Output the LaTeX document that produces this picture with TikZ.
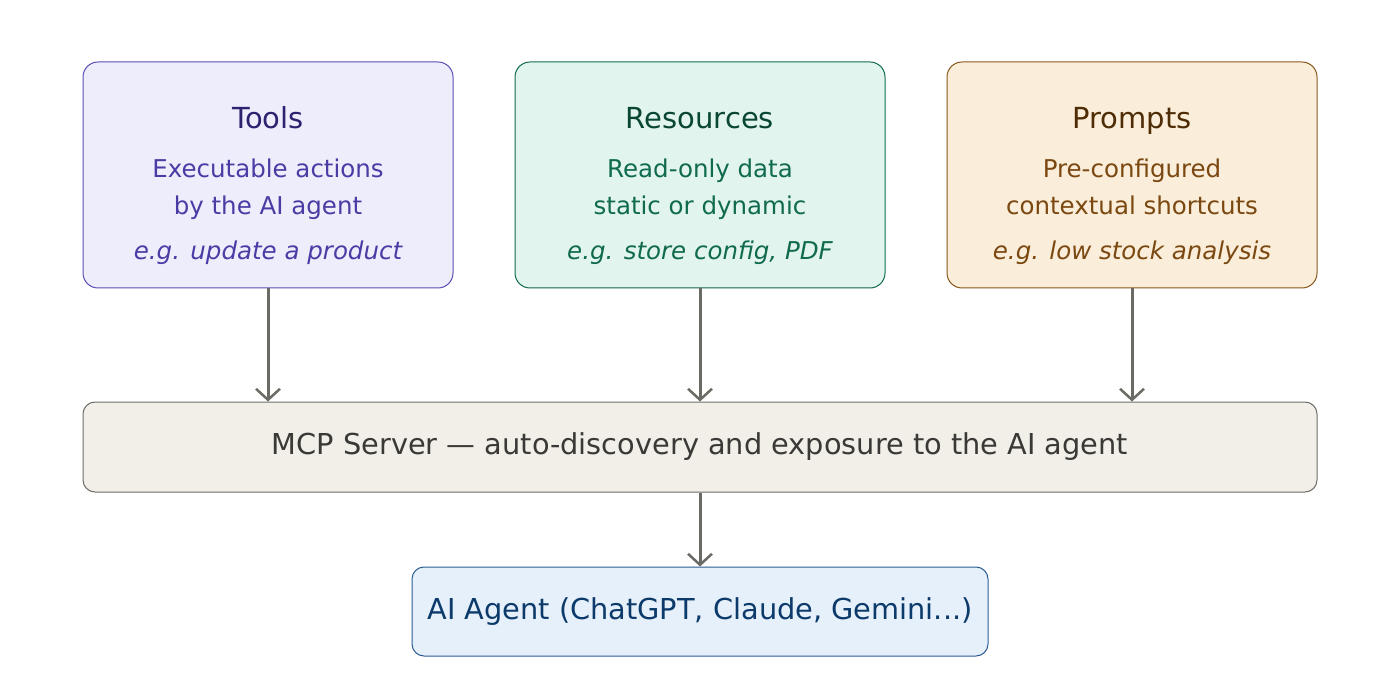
\documentclass[tikz,border=0pt]{standalone}
\usepackage{fontspec}
\setmainfont{DejaVu Sans}
\usepackage{xcolor}
\usetikzlibrary{arrows.meta, positioning, calc}

\definecolor{toolfill}{HTML}{EEEDFC}
\definecolor{tooldraw}{HTML}{5A4FB4}
\definecolor{tooltitle}{HTML}{2C2270}
\definecolor{tooltext}{HTML}{4A3CA4}
\definecolor{resfill}{HTML}{E1F4EE}
\definecolor{resdraw}{HTML}{116B50}
\definecolor{restitle}{HTML}{0A4634}
\definecolor{restext}{HTML}{0F6A4E}
\definecolor{promptfill}{HTML}{FAEDD9}
\definecolor{promptdraw}{HTML}{86581C}
\definecolor{prompttitle}{HTML}{4E2C06}
\definecolor{prompttext}{HTML}{7A4810}
\definecolor{mcpfill}{HTML}{F1EFE8}
\definecolor{mcpdraw}{HTML}{6E6D68}
\definecolor{mcptext}{HTML}{3A3936}
\definecolor{agentfill}{HTML}{E6F0FA}
\definecolor{agentdraw}{HTML}{2C5C92}
\definecolor{agenttext}{HTML}{0C3A6A}
\definecolor{arrowgray}{HTML}{6B6B66}

\begin{document}
\begin{tikzpicture}[x=1pt, y=1pt,
    card/.style={draw, rounded corners=15pt, line width=1pt, minimum width=370pt, minimum height=226pt, inner sep=0pt},
    bar/.style={draw=mcpdraw, fill=mcpfill, rounded corners=12pt, line width=1pt, inner sep=0pt},
    title/.style={font=\fontsize{29}{32}\selectfont, anchor=base},
    body/.style={font=\fontsize{24.5}{30}\selectfont, anchor=base},
    example/.style={font=\fontsize{24.5}{30}\selectfont\itshape, anchor=base},
    flow/.style={draw=arrowgray, line width=3pt, -{Straight Barb[length=11pt, width=24pt, line width=2.5pt]}}]
    \useasboundingbox (0,0) rectangle (1400,-700);

    % Top row of cards
    \node[card, draw=tooldraw, fill=toolfill] (tools) at (268,-175) {};
    \node[card, draw=resdraw, fill=resfill] (res) at (700,-175) {};
    \node[card, draw=promptdraw, fill=promptfill] (prompts) at (1132,-175) {};

    % Card texts
    \node[title, text=tooltitle] (toolsT) at ($(tools.north)+(0,-67)$) {Tools};
    \node[body, text=tooltext] (toolsB1) at ($(tools.north)+(0,-116)$) {Executable actions};
    \node[body, text=tooltext] (toolsB2) at ($(tools.north)+(0,-153)$) {by the AI agent};
    \node[example, text=tooltext] (toolsE) at ($(tools.north)+(0,-198)$) {e.g. update a product};

    \node[title, text=restitle] (resT) at ($(res.north)+(0,-67)$) {Resources};
    \node[body, text=restext] (resB1) at ($(res.north)+(0,-116)$) {Read-only data};
    \node[body, text=restext] (resB2) at ($(res.north)+(0,-153)$) {static or dynamic};
    \node[example, text=restext] (resE) at ($(res.north)+(0,-198)$) {e.g. store config, PDF};

    \node[title, text=prompttitle] (promptsT) at ($(prompts.north)+(0,-67)$) {Prompts};
    \node[body, text=prompttext] (promptsB1) at ($(prompts.north)+(0,-116)$) {Pre-configured};
    \node[body, text=prompttext] (promptsB2) at ($(prompts.north)+(0,-153)$) {contextual shortcuts};
    \node[example, text=prompttext] (promptsE) at ($(prompts.north)+(0,-198)$) {e.g. low stock analysis};

    % MCP server bar
    \node[bar, minimum width=1234pt, minimum height=90pt, text=mcptext, font=\fontsize{28.8}{32}\selectfont] (mcp) at (700,-447) {MCP Server — auto-discovery and exposure to the AI agent};

    % AI agent
    \node[bar, draw=agentdraw, fill=agentfill, minimum width=576pt, minimum height=89pt, text=agenttext, font=\fontsize{28.8}{32}\selectfont] (agent) at (700,-611.5) {AI Agent (ChatGPT, Claude, Gemini...)};

    % Arrows
    \draw[flow] (tools.south) -- (tools.south |- mcp.north);
    \draw[flow] (res.south) -- (res.south |- mcp.north);
    \draw[flow] (prompts.south) -- (prompts.south |- mcp.north);
    \draw[flow] (mcp.south) -- (agent.north);
\end{tikzpicture}
\end{document}
